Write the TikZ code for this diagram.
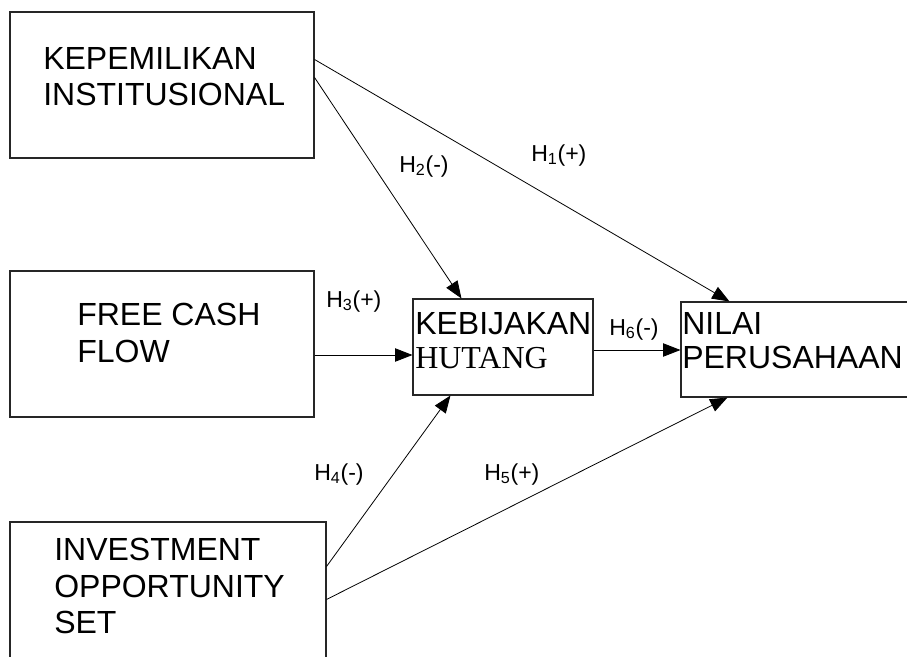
\documentclass[tikz,border=0pt]{standalone}
\usepackage{fontspec}
\setmainfont{Liberation Sans}
\newfontfamily\serifrm{Liberation Serif}
\usetikzlibrary{arrows.meta,calc}
\tikzset{
  box/.style={draw=black!85, line width=0.8pt, inner sep=0pt, minimum width=#1},
  boxtext/.style={anchor=north west, inner sep=0pt, align=left, font=\fontsize{24pt}{27.4pt}\selectfont},
  boxtexttight/.style={anchor=north west, inner sep=0pt, align=left, font=\fontsize{24pt}{25.8pt}\selectfont},
  hlabel/.style={anchor=base west, inner sep=0pt, font=\fontsize{17.3pt}{19pt}\selectfont},
  conn/.style={line width=0.6pt, -{Triangle[length=13pt,width=10pt]}}
}
\begin{document}
\begin{tikzpicture}[x=0.75pt,y=-0.75pt]
\clip (0,0) rectangle (907,657);
\fill[white] (0,0) rectangle (907,657);
% boxes
\node[box=228pt, minimum height=109.5pt] (b1) at (162,85) {};
\node[box=228pt, minimum height=109.5pt] (b2) at (162,344) {};
\node[box=237pt, minimum height=126pt] (b3) at (168,606) {};
\node[box=135pt, minimum height=72pt] (b4) at (503,347) {};
\node[box=175.5pt, minimum height=71.25pt] (b5) at (798,349.5) {};
% box texts
\node[boxtext] (t1) at (43,47) {KEPEMILIKAN\\INSTITUSIONAL};
\node[boxtext] (t2) at (77,303) {FREE CASH\\FLOW};
\node[boxtext] (t3) at (54,538) {INVESTMENT\\OPPORTUNITY\\SET};
\node[boxtexttight] (t4) at (415,312) {KEBIJAKAN\\{\serifrm HUTANG}};
\node[boxtexttight] (t5) at (682,312) {NILAI\\PERUSAHAAN};
% connectors
\draw[conn] ($(b1.north east)+(0,48)$) -- ($(b5.north west)+(49,0)$);
\draw[conn] ($(b1.north east)+(0,66)$) -- ($(b4.north west)+(49,0)$);
\draw[conn] ($(b2.east)+(0,11)$) -- ($(b4.west)+(0,8)$);
\draw[conn] ($(b3.north east)+(0,45)$) -- ($(b4.south west)+(38,0)$);
\draw[conn] ($(b3.north east)+(0,78)$) -- ($(b5.south west)+(47,0)$);
\draw[conn] ($(b4.east)+(0,3)$) -- ($(b5.west)+(0,0.5)$);
% labels
\node[hlabel] (l1) at (531,161) {H\textsubscript{1}(+)};
\node[hlabel] (l2) at (399,172) {H\textsubscript{2}(-)};
\node[hlabel] (l3) at (326,307) {H\textsubscript{3}(+)};
\node[hlabel] (l4) at (314,480) {H\textsubscript{4}(-)};
\node[hlabel] (l5) at (484,480) {H\textsubscript{5}(+)};
\node[hlabel] (l6) at (609,335) {H\textsubscript{6}(-)};
\end{tikzpicture}
\end{document}
